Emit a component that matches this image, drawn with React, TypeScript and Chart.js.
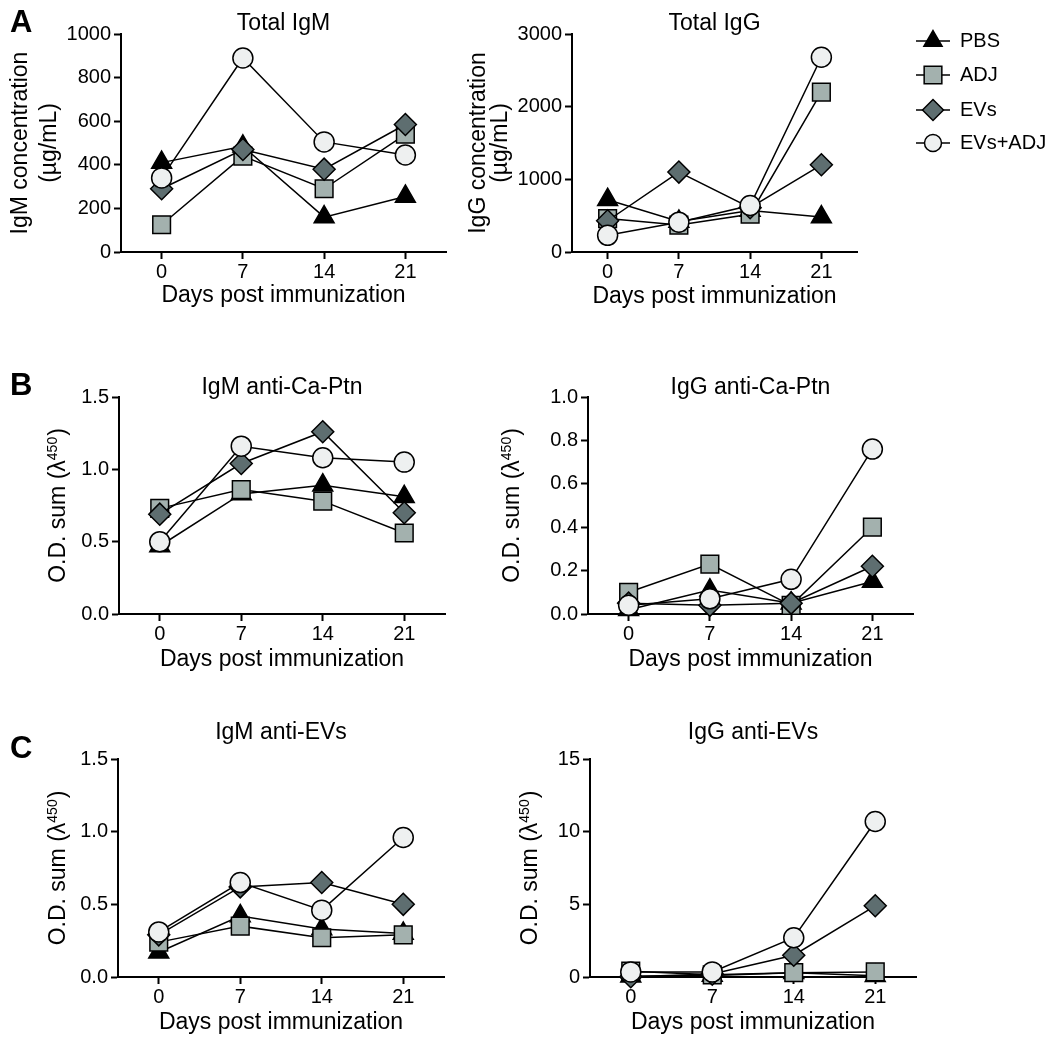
import React, { useEffect, useRef } from 'react';
import { Chart, registerables } from 'chart.js';
import { drawPoint } from 'chart.js/helpers';

Chart.register(...registerables);

const FONT = "'Liberation Sans', Arial, Helvetica, sans-serif";
Chart.defaults.font.family = FONT;
Chart.defaults.color = '#000';

// ---------- data ----------
const days = ['0', '7', '14', '21'];
const groupNames = ['PBS', 'ADJ', 'EVs', 'EVs+ADJ'];

// A: Total IgM (µg/mL)
const totalIgM_PBS = [410, 485, 160, 255];
const totalIgM_ADJ = [125, 440, 290, 540];
const totalIgM_EVs = [290, 470, 380, 585];
const totalIgM_EVsADJ = [340, 890, 505, 445];
const totalIgM_ticks = [0, 200, 400, 600, 800, 1000];

// A: Total IgG (µg/mL)
const totalIgG_PBS = [720, 420, 570, 480];
const totalIgG_ADJ = [460, 370, 520, 2200];
const totalIgG_EVs = [430, 1100, 610, 1200];
const totalIgG_EVsADJ = [230, 410, 640, 2680];
const totalIgG_ticks = [0, 1000, 2000, 3000];

// B: IgM anti-Ca-Ptn (O.D. sum)
const igmCaPtn_PBS = [0.47, 0.83, 0.89, 0.81];
const igmCaPtn_ADJ = [0.73, 0.86, 0.78, 0.56];
const igmCaPtn_EVs = [0.69, 1.04, 1.26, 0.7];
const igmCaPtn_EVsADJ = [0.5, 1.16, 1.08, 1.05];
const igmCaPtn_ticks = [0, 0.5, 1.0, 1.5];

// B: IgG anti-Ca-Ptn (O.D. sum)
const iggCaPtn_PBS = [0.02, 0.11, 0.05, 0.15];
const iggCaPtn_ADJ = [0.1, 0.23, 0.04, 0.4];
const iggCaPtn_EVs = [0.05, 0.04, 0.05, 0.22];
const iggCaPtn_EVsADJ = [0.04, 0.07, 0.16, 0.76];
const iggCaPtn_ticks = [0, 0.2, 0.4, 0.6, 0.8, 1.0];

// C: IgM anti-EVs (O.D. sum)
const igmEVs_PBS = [0.17, 0.42, 0.33, 0.3];
const igmEVs_ADJ = [0.24, 0.35, 0.27, 0.29];
const igmEVs_EVs = [0.29, 0.62, 0.65, 0.5];
const igmEVs_EVsADJ = [0.31, 0.65, 0.46, 0.96];
const igmEVs_ticks = [0, 0.5, 1.0, 1.5];

// C: IgG anti-EVs (O.D. sum)
const iggEVs_PBS = [0.05, 0.1, 0.3, 0.08];
const iggEVs_ADJ = [0.4, 0.15, 0.3, 0.35];
const iggEVs_EVs = [0.02, 0.2, 1.5, 4.9];
const iggEVs_EVsADJ = [0.35, 0.35, 2.7, 10.7];
const iggEVs_ticks = [0, 5, 10, 15];

// ---------- styles ----------
const groupShapes = ['triangle', 'rect', 'rectRot', 'circle'];
const groupFills = ['#000000', '#a3b1ae', '#5e6e70', '#eef0f0'];
const groupRadii = [11.5, 12.5, 11, 10];
const legendRadii = [10.5, 12.5, 10.5, 8.5];

const OD_TITLE_MAIN = 'O.D. sum (\u03bb';
const OD_TITLE_SUP = '450';
const OD_TITLE_TAIL = ')';
const X_TITLE = 'Days post immunization';
const XH = 60;

type Panel = {
  key: string;
  title: string;
  yTitle: string[] | null; // null -> O.D. title with superscript
  yTicks: number[];
  yDecimals: number;
  series: number[][];
  x0: number;
  y0: number;
  width: number;
  area: { left: number; top: number; right: number; bottom: number };
  titleY: number;
  yTitleX: number;
  yTitleLH: number;
  xTitleY: number;
  letter?: { text: string; x: number; y: number };
  legend?: { x: number; textX: number; rows: number[] };
};

const panels: Panel[] = [
  {
    key: 'a1', title: 'Total IgM', yTitle: ['IgM concentration', '(\u00b5g/mL)'],
    yTicks: totalIgM_ticks, yDecimals: 0,
    series: [totalIgM_PBS, totalIgM_ADJ, totalIgM_EVs, totalIgM_EVsADJ],
    x0: 0, y0: 0, width: 460, area: { left: 121, top: 34, right: 447, bottom: 252 },
    titleY: 24, yTitleX: 21, yTitleLH: 29, xTitleY: 296,
    letter: { text: 'A', x: 10, y: 23 },
  },
  {
    key: 'a2', title: 'Total IgG', yTitle: ['IgG concentration', '(\u00b5g/mL)'],
    yTicks: totalIgG_ticks, yDecimals: 0,
    series: [totalIgG_PBS, totalIgG_ADJ, totalIgG_EVs, totalIgG_EVsADJ],
    x0: 460, y0: 0, width: 590, area: { left: 572, top: 34, right: 857, bottom: 252 },
    titleY: 24, yTitleX: 479, yTitleLH: 22, xTitleY: 297,
    legend: { x: 933, textX: 960, rows: [41, 75, 110, 143] },
  },
  {
    key: 'b1', title: 'IgM anti-Ca-Ptn', yTitle: null,
    yTicks: igmCaPtn_ticks, yDecimals: 1,
    series: [igmCaPtn_PBS, igmCaPtn_ADJ, igmCaPtn_EVs, igmCaPtn_EVsADJ],
    x0: 0, y0: 352, width: 460, area: { left: 119, top: 397, right: 445, bottom: 614 },
    titleY: 388, yTitleX: 57, yTitleLH: 27.6, xTitleY: 660,
    letter: { text: 'B', x: 10, y: 386 },
  },
  {
    key: 'b2', title: 'IgG anti-Ca-Ptn', yTitle: null,
    yTicks: iggCaPtn_ticks, yDecimals: 1,
    series: [iggCaPtn_PBS, iggCaPtn_ADJ, iggCaPtn_EVs, iggCaPtn_EVsADJ],
    x0: 470, y0: 352, width: 460, area: { left: 588, top: 397, right: 913, bottom: 614 },
    titleY: 388, yTitleX: 511, yTitleLH: 27.6, xTitleY: 660,
  },
  {
    key: 'c1', title: 'IgM anti-EVs', yTitle: null,
    yTicks: igmEVs_ticks, yDecimals: 1,
    series: [igmEVs_PBS, igmEVs_ADJ, igmEVs_EVs, igmEVs_EVsADJ],
    x0: 0, y0: 714, width: 460, area: { left: 118, top: 759, right: 444, bottom: 977 },
    titleY: 733, yTitleX: 57, yTitleLH: 27.6, xTitleY: 1023,
    letter: { text: 'C', x: 10, y: 749 },
  },
  {
    key: 'c2', title: 'IgG anti-EVs', yTitle: null,
    yTicks: iggEVs_ticks, yDecimals: 0,
    series: [iggEVs_PBS, iggEVs_ADJ, iggEVs_EVs, iggEVs_EVsADJ],
    x0: 470, y0: 714, width: 460, area: { left: 590, top: 759, right: 918, bottom: 977 },
    titleY: 733, yTitleX: 529, yTitleLH: 27.6, xTitleY: 1023,
  },
];

function makeAnnot(p: Panel) {
  return {
    id: 'annot_' + p.key,
    afterDraw(chart: any) {
      const ctx = chart.ctx as CanvasRenderingContext2D;
      const a = chart.chartArea;
      ctx.save();
      ctx.fillStyle = '#000';
      ctx.textAlign = 'center';
      ctx.textBaseline = 'middle';
      ctx.font = `23px ${FONT}`;
      ctx.fillText(p.title, (a.left + a.right) / 2, p.titleY - p.y0);

      if (!p.yTitle) {
        // O.D. sum (λ^450) with a true superscript
        ctx.save();
        ctx.translate(p.yTitleX - p.x0, (a.top + a.bottom) / 2);
        ctx.rotate(-Math.PI / 2);
        ctx.textBaseline = 'alphabetic';
        ctx.textAlign = 'left';
        const mainFont = `23px ${FONT}`;
        const supFont = `14px ${FONT}`;
        ctx.font = mainFont;
        const w1 = ctx.measureText(OD_TITLE_MAIN).width;
        const w3 = ctx.measureText(OD_TITLE_TAIL).width;
        ctx.font = supFont;
        const w2 = ctx.measureText(OD_TITLE_SUP).width;
        const total = w1 + w2 + 1 + w3;
        let x = -total / 2;
        const base = 8;
        ctx.font = mainFont;
        ctx.fillText(OD_TITLE_MAIN, x, base);
        x += w1;
        ctx.font = supFont;
        ctx.fillText(OD_TITLE_SUP, x, base - 8.5);
        x += w2 + 1;
        ctx.font = mainFont;
        ctx.fillText(OD_TITLE_TAIL, x, base);
        ctx.restore();
      }

      if (p.letter) {
        ctx.font = `bold 31px ${FONT}`;
        ctx.textAlign = 'left';
        ctx.textBaseline = 'middle';
        ctx.fillText(p.letter.text, p.letter.x - p.x0, p.letter.y - p.y0);
      }
      if (p.legend) {
        const lg = p.legend;
        groupNames.forEach((name, i) => {
          const y = lg.rows[i] - p.y0;
          const cx = lg.x - p.x0;
          ctx.strokeStyle = '#000';
          ctx.lineWidth = 1.5;
          ctx.beginPath();
          ctx.moveTo(cx - 17, y);
          ctx.lineTo(cx + 17, y);
          ctx.stroke();
          ctx.fillStyle = groupFills[i];
          drawPoint(ctx, { pointStyle: groupShapes[i], radius: legendRadii[i], borderWidth: 1.5, rotation: 0 } as any, cx, y);
          ctx.fillStyle = '#000';
          ctx.font = `20px ${FONT}`;
          ctx.textAlign = 'left';
          ctx.textBaseline = 'middle';
          ctx.fillText(name, lg.textX - p.x0, y);
        });
      }
      ctx.restore();
    },
  };
}

function buildConfig(p: Panel): any {
  const YW = p.area.left - p.x0;
  const PT = p.area.top - p.y0;
  const PR = p.x0 + p.width - p.area.right;
  const ySize = 23;
  const yTitlePadTop = p.yTitleX - p.x0 - p.yTitleLH / 2;
  const xLH = ySize * 1.2;
  const xTitlePadBottom = p.area.bottom + XH - xLH / 2 - p.xTitleY;
  const yMax = p.yTicks[p.yTicks.length - 1];

  return {
    type: 'line',
    data: {
      labels: days,
      datasets: p.series.map((vals, i) => ({
        label: groupNames[i],
        data: vals,
        order: 4 - i,
        borderColor: '#000',
        borderWidth: 1.5,
        backgroundColor: groupFills[i],
        pointStyle: groupShapes[i],
        pointRadius: groupRadii[i],
        pointHoverRadius: groupRadii[i],
        pointBackgroundColor: groupFills[i],
        pointBorderColor: '#000',
        pointBorderWidth: 1.5,
        fill: false,
        tension: 0,
        clip: false,
      })),
    },
    options: {
      responsive: false,
      animation: false,
      events: [],
      layout: { padding: { left: 0, top: PT, right: PR, bottom: 0 } },
      plugins: {
        legend: { display: false },
        tooltip: { enabled: false },
        title: { display: false },
      },
      scales: {
        x: {
          type: 'category',
          offset: true,
          afterFit: (s: any) => { s.height = XH; },
          border: { display: true, color: '#000', width: 2 },
          grid: { display: true, drawOnChartArea: false, drawTicks: true, tickLength: 7, tickColor: '#000', tickWidth: 2, offset: false },
          ticks: { color: '#000', font: { size: 20, family: FONT }, padding: 1, autoSkip: false, maxRotation: 0 },
          title: {
            display: true, text: X_TITLE, color: '#000',
            font: { size: ySize, family: FONT, lineHeight: 1.2 },
            padding: { top: 0, bottom: xTitlePadBottom },
          },
        },
        y: {
          type: 'linear',
          min: 0,
          max: yMax,
          afterBuildTicks: (s: any) => { s.ticks = p.yTicks.map((v) => ({ value: v })); },
          afterFit: (s: any) => { s.width = YW; },
          border: { display: true, color: '#000', width: 2 },
          grid: { display: true, drawOnChartArea: false, drawTicks: true, tickLength: 7, tickColor: '#000', tickWidth: 2 },
          ticks: {
            color: '#000', font: { size: 20, family: FONT }, padding: 3, autoSkip: false,
            callback: (v: any) => Number(v).toFixed(p.yDecimals),
          },
          title: {
            display: !!p.yTitle, text: p.yTitle || '', color: '#000',
            font: { size: ySize, family: FONT, lineHeight: p.yTitleLH / ySize },
            padding: { top: yTitlePadTop, bottom: 0 },
          },
        },
      },
    },
    plugins: [makeAnnot(p)],
  };
}

function ChartPanel({ p }: { p: Panel }) {
  const ref = useRef<HTMLCanvasElement>(null);
  const W = p.width;
  const H = p.area.bottom + XH - p.y0;
  useEffect(() => {
    const chart = new Chart(ref.current as HTMLCanvasElement, buildConfig(p));
    return () => chart.destroy();
  }, []);
  return (
    <canvas
      ref={ref}
      width={W}
      height={H}
      style={{ position: 'absolute', left: p.x0, top: p.y0, width: W, height: H }}
    />
  );
}

export default function App() {
  return (
    <div style={{ position: 'absolute', left: 0, top: 0, width: 1050, height: 1046, background: '#fff', overflow: 'hidden' }}>
      {panels.map((p) => (
        <ChartPanel key={p.key} p={p} />
      ))}
    </div>
  );
}
